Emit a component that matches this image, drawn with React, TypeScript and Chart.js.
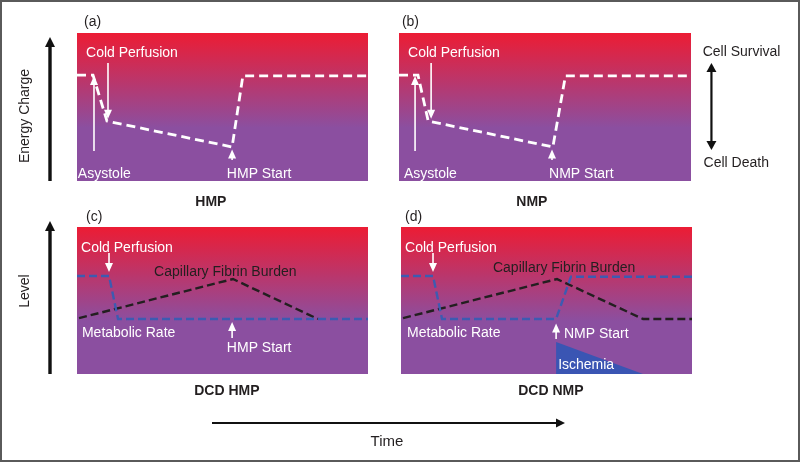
import React, { useEffect, useRef } from 'react';
import { Chart, registerables } from 'chart.js';

Chart.register(...registerables);

const W = 800;
const H = 463;

// ---- Data (x: time 0..100, y: level 0..100) ----
const hmpTime = [0, 5.5, 10.3, 53.3, 57, 100];
const hmpEnergy = [71.6, 71.6, 40.5, 23, 71, 71];

const nmpTime = [0, 6.5, 10, 52.7, 57, 100];
const nmpEnergy = [71.6, 71.6, 40.5, 23, 71, 71];

const dcdHmpMetTime = [0, 11, 14.1, 100];
const dcdHmpMetabolic = [66.7, 66.7, 37.4, 37.4];
const dcdHmpFibTime = [0.7, 53.6, 82.8];
const dcdHmpFibrin = [38, 64.6, 37.4];

const dcdNmpMetTime = [0, 11, 14.1, 53.3, 58.4, 100];
const dcdNmpMetabolic = [66.7, 66.7, 37.4, 37.4, 66.2, 66.2];
const dcdNmpFibTime = [0.7, 53.6, 83.2, 100];
const dcdNmpFibrin = [38, 64.6, 37.4, 37.4];
const ischemiaTime = [53.3, 83.2];
const ischemiaLevel = [21.8, 0];

const pts = (xs: number[], ys: number[]) => xs.map((x, i) => ({ x, y: ys[i] }));

const FONT = '"Liberation Sans", Arial, Helvetica, sans-serif';
const WHITE = '#ffffff';
const DARK = '#231f20';
const BLUE = '#3d5bb1';

type Note =
  | { t: 'text'; x: number; y: number; s: string; color?: string; align?: CanvasTextAlign; bold?: boolean; size?: number }
  | { t: 'arrow'; x: number; y1: number; y2: number; color?: string };

function head(ctx: CanvasRenderingContext2D, x1: number, y1: number, x2: number, y2: number, hl: number, hw: number, color: string) {
  const dx = x2 - x1, dy = y2 - y1;
  const len = Math.hypot(dx, dy);
  const ux = dx / len, uy = dy / len;
  const bx = x2 - ux * hl, by = y2 - uy * hl;
  ctx.save();
  ctx.fillStyle = color;
  ctx.beginPath();
  ctx.moveTo(x2, y2);
  ctx.lineTo(bx - uy * hw / 2, by + ux * hw / 2);
  ctx.lineTo(bx + uy * hw / 2, by - ux * hw / 2);
  ctx.closePath();
  ctx.fill();
  ctx.restore();
}

function arrow(
  ctx: CanvasRenderingContext2D,
  x1: number, y1: number, x2: number, y2: number,
  lw: number, hl: number, hw: number, color: string
) {
  const dx = x2 - x1, dy = y2 - y1;
  const len = Math.hypot(dx, dy);
  const ux = dx / len, uy = dy / len;
  const bx = x2 - ux * hl, by = y2 - uy * hl;
  ctx.save();
  ctx.strokeStyle = color;
  ctx.lineWidth = lw;
  ctx.setLineDash([]);
  ctx.beginPath();
  ctx.moveTo(x1, y1);
  ctx.lineTo(bx + ux * 1, by + uy * 1);
  ctx.stroke();
  ctx.restore();
  head(ctx, x1, y1, x2, y2, hl, hw, color);
}

const decorPlugin = {
  id: 'decor',
  beforeDatasetsDraw(chart: any) {
    const { ctx, chartArea: a } = chart;
    const g = ctx.createLinearGradient(0, a.top, 0, a.bottom);
    g.addColorStop(0, '#ec1c34');
    g.addColorStop(0.64, '#8b4fa0');
    g.addColorStop(1, '#8b4fa0');
    ctx.save();
    ctx.fillStyle = g;
    ctx.fillRect(a.left, a.top, a.right - a.left, a.bottom - a.top);
    ctx.restore();
  },
  afterDraw(chart: any, _args: any, opts: any) {
    const { ctx } = chart;
    const xs = chart.scales.x;
    const ys = chart.scales.y;
    const notes: Note[] = opts.notes || [];
    for (const n of notes) {
      if (n.t === 'text') {
        ctx.save();
        ctx.font = `${n.bold ? 'bold ' : ''}${n.size || 14}px ${FONT}`;
        ctx.fillStyle = n.color || WHITE;
        ctx.textAlign = n.align || 'left';
        ctx.textBaseline = 'middle';
        ctx.fillText(n.s, xs.getPixelForValue(n.x), ys.getPixelForValue(n.y));
        ctx.restore();
      } else {
        const px = xs.getPixelForValue(n.x);
        arrow(ctx, px, ys.getPixelForValue(n.y1), px, ys.getPixelForValue(n.y2), 1.6, 9, 8, n.color || WHITE);
      }
    }
    if (opts.global) {
      ctx.save();
      ctx.strokeStyle = '#5a5a5a';
      ctx.lineWidth = 2;
      ctx.strokeRect(1, 1, 798, 460);
      ctx.restore();
      arrow(ctx, 50, 181, 50, 37, 3.4, 10, 10, '#111');
      arrow(ctx, 50, 374, 50, 221, 3.4, 10, 10, '#111');
      arrow(ctx, 212, 423, 565, 423, 2, 9, 9, '#111');
      ctx.save();
      ctx.fillStyle = DARK;
      ctx.font = `14px ${FONT}`;
      ctx.textAlign = 'center';
      ctx.textBaseline = 'middle';
      ctx.translate(25, 116);
      ctx.rotate(-Math.PI / 2);
      ctx.fillText('Energy Charge', 0, 0);
      ctx.restore();
      ctx.save();
      ctx.fillStyle = DARK;
      ctx.font = `14px ${FONT}`;
      ctx.textAlign = 'center';
      ctx.textBaseline = 'middle';
      ctx.translate(25, 291);
      ctx.rotate(-Math.PI / 2);
      ctx.fillText('Level', 0, 0);
      ctx.restore();
      ctx.save();
      ctx.fillStyle = DARK;
      ctx.font = `15px ${FONT}`;
      ctx.textAlign = 'center';
      ctx.textBaseline = 'middle';
      ctx.fillText('Time', 387, 442);
      ctx.restore();
    }
    if (opts.cell) {
      const px = xs.getPixelForValue(107);
      const yTop = ys.getPixelForValue(79.7);
      const yBot = ys.getPixelForValue(21);
      ctx.save();
      ctx.strokeStyle = '#111';
      ctx.lineWidth = 2.2;
      ctx.beginPath();
      ctx.moveTo(px, yTop + 8);
      ctx.lineTo(px, yBot - 8);
      ctx.stroke();
      ctx.restore();
      head(ctx, px, yBot, px, yTop, 9, 10, '#111');
      head(ctx, px, yTop, px, yBot, 9, 10, '#111');
    }
  },
};

const whiteLine = (data: any[]) => ({
  data,
  showLine: true,
  borderColor: WHITE,
  borderWidth: 2.8,
  borderDash: [9, 5],
  pointRadius: 0,
  tension: 0,
  fill: false,
});

const dashLine = (data: any[], color: string, order: number) => ({
  data,
  showLine: true,
  borderColor: color,
  borderWidth: 2.4,
  borderDash: [8, 4],
  pointRadius: 0,
  tension: 0,
  fill: false,
  order,
});

type PanelDef = {
  rect: [number, number, number, number]; // left, top, right, bottom
  datasets: any[];
  notes: Note[];
  global?: boolean;
  cell?: boolean;
};

const panels: PanelDef[] = [
  {
    rect: [77, 33, 368, 181],
    datasets: [whiteLine(pts(hmpTime, hmpEnergy))],
    notes: [
      { t: 'text', x: 2.4, y: 107.4, s: '(a)', color: DARK },
      { t: 'text', x: 46, y: -14.2, s: 'HMP', color: DARK, align: 'center', bold: true },
      { t: 'text', x: 3.1, y: 86.5, s: 'Cold Perfusion' },
      { t: 'arrow', x: 10.65, y1: 79.7, y2: 42 },
      { t: 'arrow', x: 5.84, y1: 20.3, y2: 70.9 },
      { t: 'text', x: 0.3, y: 4.7, s: 'Asystole' },
      { t: 'arrow', x: 53.3, y1: 14.2, y2: 21.2 },
      { t: 'text', x: 51.5, y: 4.7, s: 'HMP Start' },
    ],
    global: true,
  },
  {
    rect: [399, 33, 691, 181],
    datasets: [whiteLine(pts(nmpTime, nmpEnergy))],
    notes: [
      { t: 'text', x: 1, y: 107.4, s: '(b)', color: DARK },
      { t: 'text', x: 45.5, y: -14.2, s: 'NMP', color: DARK, align: 'center', bold: true },
      { t: 'text', x: 3.1, y: 86.5, s: 'Cold Perfusion' },
      { t: 'arrow', x: 11, y1: 79.7, y2: 42 },
      { t: 'arrow', x: 5.5, y1: 20.3, y2: 70.9 },
      { t: 'text', x: 1.7, y: 4.7, s: 'Asystole' },
      { t: 'arrow', x: 52.4, y1: 14.2, y2: 21.2 },
      { t: 'text', x: 51.4, y: 4.7, s: 'NMP Start' },
      { t: 'text', x: 104, y: 87, s: 'Cell Survival', color: DARK },
      { t: 'text', x: 104.3, y: 12.2, s: 'Cell Death', color: DARK },
    ],
    cell: true,
  },
  {
    rect: [77, 227, 368, 374],
    datasets: [
      dashLine(pts(dcdHmpMetTime, dcdHmpMetabolic), BLUE, 0),
      dashLine(pts(dcdHmpFibTime, dcdHmpFibrin), DARK, 1),
    ],
    notes: [
      { t: 'text', x: 3.1, y: 106.8, s: '(c)', color: DARK },
      { t: 'text', x: 51.5, y: -11.6, s: 'DCD HMP', color: DARK, align: 'center', bold: true },
      { t: 'text', x: 1.4, y: 85.7, s: 'Cold Perfusion' },
      { t: 'arrow', x: 11, y1: 82.3, y2: 69.4 },
      { t: 'text', x: 26.5, y: 69.4, s: 'Capillary Fibrin Burden', color: DARK },
      { t: 'text', x: 1.7, y: 27.9, s: 'Metabolic Rate' },
      { t: 'arrow', x: 53.3, y1: 24.5, y2: 35.4 },
      { t: 'text', x: 51.5, y: 17.7, s: 'HMP Start' },
    ],
  },
  {
    rect: [401, 227, 692, 374],
    datasets: [
      dashLine(pts(dcdNmpMetTime, dcdNmpMetabolic), BLUE, 0),
      dashLine(pts(dcdNmpFibTime, dcdNmpFibrin), DARK, 1),
      {
        data: pts(ischemiaTime, ischemiaLevel),
        showLine: true,
        borderWidth: 0,
        borderColor: 'rgba(0,0,0,0)',
        backgroundColor: '#3a55b3',
        fill: 'origin',
        pointRadius: 0,
        tension: 0,
        order: 2,
      },
    ],
    notes: [
      { t: 'text', x: 1.4, y: 106.8, s: '(d)', color: DARK },
      { t: 'text', x: 51.5, y: -11.6, s: 'DCD NMP', color: DARK, align: 'center', bold: true },
      { t: 'text', x: 1.4, y: 85.7, s: 'Cold Perfusion' },
      { t: 'arrow', x: 11, y1: 82.3, y2: 69.4 },
      { t: 'text', x: 31.6, y: 72.1, s: 'Capillary Fibrin Burden', color: DARK },
      { t: 'text', x: 2.1, y: 27.9, s: 'Metabolic Rate' },
      { t: 'arrow', x: 53.3, y1: 23.8, y2: 34.4 },
      { t: 'text', x: 56, y: 27.2, s: 'NMP Start' },
      { t: 'text', x: 54, y: 6.1, s: 'Ischemia' },
    ],
  },
];

function Panel({ def }: { def: PanelDef }) {
  const ref = useRef<HTMLCanvasElement | null>(null);
  useEffect(() => {
    if (!ref.current) return;
    const [l, t, r, b] = def.rect;
    const chart = new Chart(ref.current, {
      type: 'scatter',
      data: { datasets: def.datasets },
      options: {
        responsive: false,
        animation: false,
        events: [],
        layout: { padding: { left: l, top: t, right: W - r, bottom: H - b } },
        scales: {
          x: { type: 'linear', min: 0, max: 100, display: false },
          y: { type: 'linear', min: 0, max: 100, display: false },
        },
        plugins: {
          legend: { display: false },
          tooltip: { enabled: false },
          title: { display: false },
          decor: { notes: def.notes, global: !!def.global, cell: !!def.cell },
        } as any,
      },
      plugins: [decorPlugin],
    });
    return () => chart.destroy();
  }, [def]);
  return (
    <canvas
      ref={ref}
      width={W}
      height={H}
      style={{ position: 'absolute', left: 0, top: 0, width: W, height: H }}
    />
  );
}

export default function App() {
  return (
    <div style={{ position: 'fixed', left: 0, top: 0, width: W, height: H, background: '#fff', overflow: 'hidden' }}>
      {panels.map((p, i) => (
        <Panel key={i} def={p} />
      ))}
    </div>
  );
}
